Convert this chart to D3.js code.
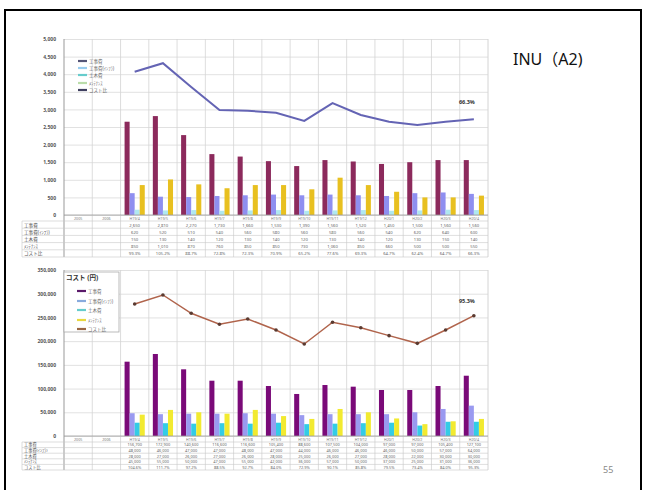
<!DOCTYPE html>
<html>
<head>
<meta charset="utf-8">
<script src="https://cdn.jsdelivr.net/npm/d3@7"></script>
<style>
  body { margin: 0; background: #fff; }
  svg { display: block; font-family: "Noto Sans", "Noto Sans CJK JP", sans-serif; }
</style>
</head>
<body>
<svg id="slide" width="650" height="490"></svg>
<script>
// categories (first two columns have no data)
var categories = ["2005", "2006", "H19/4", "H19/5", "H19/6", "H19/7", "H19/8", "H19/9", "H19/10",
                  "H19/11", "H19/12", "H20/1", "H20/2", "H20/3", "H20/4"];

// upper chart
var topNames = ["工事費", "工事費(ｲﾝﾌﾗ)", "土木費", "ﾒﾝﾃﾅﾝｽ", "コスト比"];
var topA = [2650, 2810, 2270, 1730, 1660, 1530, 1390, 1560, 1520, 1450, 1500, 1560, 1560];
var topB = [620, 520, 510, 540, 560, 580, 560, 580, 560, 540, 620, 640, 600];
var topC = [150, 130, 140, 120, 130, 140, 120, 130, 140, 120, 130, 150, 140];
var topD = [850, 1010, 870, 760, 850, 850, 730, 1060, 850, 660, 500, 500, 550];
var topRate = [0.993, 1.052, 0.887, 0.728, 0.723, 0.709, 0.652, 0.776, 0.693, 0.647, 0.624, 0.647, 0.663];

// lower chart
var botTitle = "コスト (円)";
var botNames = ["工事費", "工事費(ｲﾝﾌﾗ)", "土木費", "ﾒﾝﾃﾅﾝｽ", "コスト比"];
var botA = [156700, 172900, 140600, 116600, 116600, 105400, 88600, 107500, 104000, 97000, 97000, 105400, 127100];
var botB = [48000, 46000, 47000, 47000, 48000, 47000, 44000, 46000, 46000, 46000, 50000, 57000, 64000];
var botC = [28000, 27000, 26000, 27000, 26000, 28000, 25000, 26000, 27000, 28000, 22000, 30000, 30000];
var botD = [45000, 55000, 50000, 47000, 55000, 42000, 36000, 57000, 50000, 37000, 25000, 31000, 36000];
var botRate = [1.046, 1.117, 0.972, 0.885, 0.927, 0.840, 0.729, 0.901, 0.858, 0.795, 0.734, 0.840, 0.953];

var svg = d3.select("#slide");

// slide frame
svg.append("rect")
  .attr("x", 5).attr("y", 10).attr("width", 636).attr("height", 495)
  .attr("fill", "none").attr("stroke", "#000").attr("stroke-width", 2);

var x = d3.scaleBand().domain(categories).range([64, 488]);
var dataCats = categories.slice(2);
var xSub = d3.scaleBand().domain([0, 1, 2, 3]).range([0, x.bandwidth()]).paddingOuter(0.8);

function drawChart(o) {
  var g = svg.append("g");
  var y = d3.scaleLinear().domain([0, o.max]).range([o.base, o.top]);
  var yr = d3.scaleLinear().domain([0, o.rateMax]).range([o.base, o.top]);

  // horizontal grid
  g.append("g")
    .attr("transform", "translate(64,0)")
    .call(d3.axisLeft(y).ticks(o.ticks).tickSize(-424).tickFormat(""))
    .call(function(s) {
      s.select(".domain").remove();
      s.selectAll("line").attr("stroke", "#d9d9d9").attr("stroke-width", 0.8);
    });

  // vertical grid, runs through table
  var edges = categories.map(function(c) { return x(c); }).concat([488]);
  g.selectAll(".vgrid").data(edges).enter().append("line")
    .attr("x1", function(d) { return d; }).attr("x2", function(d) { return d; })
    .attr("y1", o.top).attr("y2", o.tableBottom)
    .attr("stroke", function(d, i) { return i == 0 ? "#999" : "#d4d4d4"; })
    .attr("stroke-width", function(d, i) { return (i == 0 || i == 15) ? 1 : 0.8; });

  // y labels
  g.append("g")
    .attr("transform", "translate(64,0)")
    .call(d3.axisLeft(y).ticks(o.ticks).tickSize(0).tickPadding(8).tickFormat(d3.format(",")))
    .call(function(s) {
      s.select(".domain").remove();
      s.selectAll("text").attr("font-size", 5).attr("font-weight", "bold")
        .attr("fill", "#555").attr("font-family", "Noto Sans");
    });

  // bars
  o.series.forEach(function(arr, k) {
    g.selectAll(".bar" + k).data(arr).enter().append("rect")
      .attr("x", function(d, j) { return x(dataCats[j]) + xSub(k); })
      .attr("y", function(d) { return y(d); })
      .attr("width", xSub.bandwidth())
      .attr("height", function(d) { return o.base - y(d); })
      .attr("fill", o.colors[k]);
  });

  // rate line
  var line = d3.line()
    .x(function(d, j) { return x(dataCats[j]) + x.bandwidth() / 2; })
    .y(function(d) { return yr(d); });
  g.append("path").datum(o.rate)
    .attr("d", line).attr("fill", "none")
    .attr("stroke", o.lineColor).attr("stroke-width", o.lineWidth);
  if (o.markers) {
    g.selectAll(".mk").data(o.rate).enter().append("circle")
      .attr("cx", function(d, j) { return x(dataCats[j]) + x.bandwidth() / 2; })
      .attr("cy", function(d) { return yr(d); })
      .attr("r", 1.8).attr("fill", o.markers);
  }
  var last = o.rate[o.rate.length - 1];
  g.append("text")
    .attr("x", x(dataCats[dataCats.length - 1]) + x.bandwidth() / 2 - 7)
    .attr("y", yr(last) + o.labelDy)
    .attr("text-anchor", "middle").attr("font-size", 5.5).attr("font-weight", "bold")
    .attr("fill", "#333").text(d3.format(".1%")(last));

  // table: category row + data rows
  var rowH = (o.tableBottom - o.base - o.catH) / 5;
  g.append("line").attr("x1", 64).attr("x2", 488).attr("y1", o.base).attr("y2", o.base)
    .attr("stroke", "#999").attr("stroke-width", 0.8);
  g.selectAll(".cat").data(categories).enter().append("text")
    .attr("x", function(d) { return x(d) + x.bandwidth() / 2; })
    .attr("y", o.base + o.catH - 1.2)
    .attr("text-anchor", "middle").attr("font-size", 3.6).attr("fill", "#777").text(function(d) { return d; });
  for (var r = 0; r <= 5; r++) {
    var ry = o.base + o.catH + r * rowH;
    g.append("line").attr("x1", o.tableLeft).attr("x2", 488).attr("y1", ry).attr("y2", ry)
      .attr("stroke", "#c8c8c8").attr("stroke-width", 0.6);
  }
  g.append("line").attr("x1", o.tableLeft).attr("x2", o.tableLeft)
    .attr("y1", o.base + o.catH).attr("y2", o.tableBottom).attr("stroke", "#c8c8c8").attr("stroke-width", 0.6);
  var rows = o.series.concat([o.rate]);
  rows.forEach(function(arr, r) {
    var ty = o.base + o.catH + (r + 1) * rowH - rowH * 0.22;
    g.append("text").attr("x", o.tableLeft + 2).attr("y", ty)
      .attr("font-size", Math.min(4.6, rowH * 0.75)).attr("fill", "#555").text(o.names[r]);
    g.selectAll(".cell" + r).data(arr).enter().append("text")
      .attr("x", function(d, j) { return x(dataCats[j]) + x.bandwidth() / 2; })
      .attr("y", ty)
      .attr("text-anchor", "middle").attr("font-size", Math.min(4.2, rowH * 0.7)).attr("fill", "#666")
      .text(function(d) { return r == 4 ? d3.format(".1%")(d) : d3.format(",")(d); });
  });

  // legend
  var lg = g.append("g");
  if (o.legendBox) {
    lg.append("rect").attr("x", o.legendBox[0]).attr("y", o.legendBox[1])
      .attr("width", o.legendBox[2]).attr("height", o.legendBox[3])
      .attr("fill", "#fff").attr("stroke", "#aaa").attr("stroke-width", 0.8);
    lg.append("text").attr("x", o.legendBox[0] + 2).attr("y", o.legendBox[1] + 8)
      .attr("font-size", 6.5).attr("font-weight", "bold").attr("fill", "#333").text(o.title);
  }
  o.names.forEach(function(nm, i) {
    var ly = o.legendY[i];
    lg.append("line").attr("x1", o.legendX).attr("x2", o.legendX + 9)
      .attr("y1", ly).attr("y2", ly)
      .attr("stroke", o.legendColors[i]).attr("stroke-width", 2.2);
    lg.append("text").attr("x", o.legendX + 11).attr("y", ly + 1.6)
      .attr("font-size", 4.5).attr("fill", "#666").text(nm);
  });
}

drawChart({
  base: 215, top: 39, max: 5000, ticks: 10, rateMax: 1.22,
  series: [topA, topB, topC, topD], rate: topRate, names: topNames,
  colors: ["#8c2a5c", "#8f8ff0", "#b0e8f0", "#e8c020"],
  lineColor: "#6464b4", lineWidth: 2, markers: null, labelDy: -15,
  catH: 6, tableBottom: 257, tableLeft: 22,
  legendX: 78, legendY: [61, 68, 75, 83, 90],
  legendColors: ["#555577", "#99ccee", "#66cccc", "#bbddaa", "#404060"]
});

drawChart({
  base: 436, top: 270, max: 350000, ticks: 7, rateMax: 1.315,
  series: [botA, botB, botC, botD], rate: botRate, names: botNames, title: botTitle,
  colors: ["#7a0a78", "#9a9af0", "#33cce6", "#f2ea30"],
  lineColor: "#b0644c", lineWidth: 1.5, markers: "#5a3a30", labelDy: -13,
  catH: 6, tableBottom: 470, tableLeft: 22,
  legendBox: [64, 272, 55, 60], legendX: 77, legendY: [291, 301, 310, 320, 329],
  legendColors: ["#5a1a6a", "#88aadd", "#66cccc", "#e8d840", "#996644"]
});

// slide text
svg.append("text").attr("x", 513).attr("y", 65)
  .attr("font-size", 16).attr("fill", "#111").text("INU（A2)");
svg.append("text").attr("x", 603).attr("y", 473)
  .attr("font-size", 9).attr("fill", "#888").text("55");
</script>
</body>
</html>
